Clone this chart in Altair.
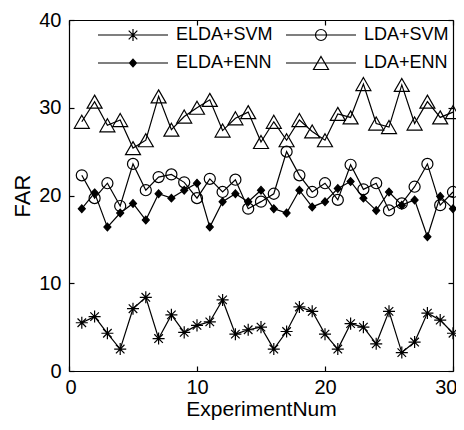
import altair as alt
import pandas as pd

experiment = list(range(1, 31))
elda_svm = [5.5, 6.2, 4.3, 2.5, 7.1, 8.4, 3.7, 6.4, 4.4, 5.2, 5.6, 8.1, 4.2, 4.7, 5.0,
            2.5, 4.5, 7.3, 6.8, 4.2, 2.5, 5.4, 5.0, 3.1, 6.8, 2.1, 3.3, 6.6, 5.8, 4.3]
lda_svm = [22.3, 19.7, 21.4, 18.8, 23.6, 20.6, 22.1, 22.4, 21.5, 19.7, 21.9, 20.4, 21.8, 18.5, 19.3,
           20.2, 25.0, 22.3, 20.4, 21.4, 19.5, 23.5, 20.7, 21.4, 18.3, 19.1, 21.0, 23.6, 18.9, 20.4]
elda_enn = [18.5, 20.3, 16.4, 18.0, 19.1, 17.2, 20.2, 19.7, 20.6, 21.4, 16.4, 19.3, 20.2, 19.3, 20.6,
            18.5, 18.0, 20.6, 18.7, 19.3, 20.8, 21.6, 19.7, 18.3, 20.4, 18.9, 19.5, 15.3, 19.9, 18.5]
lda_enn = [28.4, 30.7, 28.0, 28.6, 25.4, 26.3, 31.3, 27.5, 29.0, 30.0, 30.9, 27.4, 28.8, 29.5, 26.1,
           28.4, 26.3, 28.6, 27.3, 26.3, 29.3, 28.9, 32.7, 28.2, 27.8, 32.6, 28.2, 30.7, 28.9, 29.5]
# legend is filled column by column: column 1 = ELDA..., column 2 = LDA...
series_names = ["ELDA+SVM", "ELDA+ENN", "LDA+SVM", "LDA+ENN"]
x_ticks = [0, 10, 20, 30]
y_ticks = [0, 10, 20, 30, 40]

rows = []
for name, vals in zip(series_names, [elda_svm, elda_enn, lda_svm, lda_enn]):
    for xv, yv in zip(experiment, vals):
        rows.append({"ExperimentNum": xv, "FAR": yv, "series": name})
df = pd.DataFrame(rows)

W, H = 384, 351
FONT = "Liberation Sans"

# marker shapes, unit = 7 px
marker_paths = [
    "M-0.86,0L0.86,0M0,-0.86L0,0.86M-0.61,-0.61L0.61,0.61M-0.61,0.61L0.61,-0.61",
    "M0,-0.55L0.5,0L0,0.55L-0.5,0Z",
    "M-0.79,0A0.79,0.79,0,1,1,0.79,0A0.79,0.79,0,1,1,-0.79,0Z",
    "M0,-0.93L1.07,0.93L-1.07,0.93Z",
]
fills = ["transparent", "black", "transparent", "transparent"]
# legend shapes (line + marker), unit = 10 px
legend_paths = [
    "M-3.5,0L3.5,0M-0.6,0L0.6,0M0,-0.6L0,0.6M-0.43,-0.43L0.43,0.43M-0.43,0.43L0.43,-0.43",
    "M-3.5,0L3.5,0M0,-0.38L0.35,0L0,0.38L-0.35,0Z"
    "M-0.26,-0.1L0.26,-0.1M-0.26,0.1L0.26,0.1M-0.17,-0.2L0.17,-0.2M-0.17,0.2L0.17,0.2"
    "M-0.08,-0.3L0.08,-0.3M-0.08,0.3L0.08,0.3",
    "M-3.5,0L3.5,0M-0.55,0A0.55,0.55,0,1,1,0.55,0A0.55,0.55,0,1,1,-0.55,0Z",
    "M-3.5,0L3.5,0M0,-0.65L0.75,0.65L-0.75,0.65Z",
]

xscale = alt.Scale(domain=[0, 30], nice=False)
yscale = alt.Scale(domain=[0, 40], nice=False)
INWARD = {"expr": "-5"}

label_axis_common = dict(grid=False, domain=True, domainColor="black", domainWidth=1.2,
                         ticks=True, tickSize=INWARD, tickColor="black", tickWidth=1.2,
                         labelFont=FONT, labelFontSize=20, labelColor="black",
                         titleFont=FONT, titleFontWeight="normal", titleColor="black",
                         format="d")
tick_axis_common = dict(grid=False, domain=True, domainColor="black", domainWidth=1.2,
                        ticks=True, tickSize=INWARD, tickColor="black", tickWidth=1.2,
                        labels=False, title=None)

base = alt.Chart(df)

lines = base.mark_line(color="black", strokeWidth=1.2).encode(
    x=alt.X("ExperimentNum:Q", scale=xscale,
            axis=alt.Axis(orient="bottom", values=x_ticks, title="ExperimentNum",
                          labelPadding=11, titleFontSize=21, titlePadding=1,
                          labelFlush=True, labelFlushOffset=4, **label_axis_common)),
    y=alt.Y("FAR:Q", scale=yscale,
            axis=alt.Axis(orient="left", values=y_ticks, title="FAR", labelPadding=13,
                          titleFontSize=22, titlePadding=4, **label_axis_common)),
    detail="series:N",
)

points = base.mark_point(stroke="black", strokeWidth=1.2, size=196, opacity=1).encode(
    x=alt.X("ExperimentNum:Q", scale=xscale,
            axis=alt.Axis(orient="top", values=x_ticks, **tick_axis_common)),
    y=alt.Y("FAR:Q", scale=yscale,
            axis=alt.Axis(orient="right", values=y_ticks, **tick_axis_common)),
    shape=alt.Shape("series:N", scale=alt.Scale(domain=series_names, range=marker_paths), legend=None),
    fill=alt.Fill("series:N", scale=alt.Scale(domain=series_names, range=fills), legend=None),
)

legend = alt.Legend(title=None, orient="none", legendX=53, legendY=4, columns=2,
                    columnPadding=10, rowPadding=8, symbolSize=400, symbolStrokeColor="black",
                    symbolFillColor="transparent", symbolStrokeWidth=1.2, symbolOpacity=1,
                    labelFont=FONT, labelFontSize=18, labelColor="black", labelOffset=32,
                    padding=0)

legend_layer = base.transform_filter("false").mark_point(
    filled=False, stroke="black", strokeWidth=1.2, size=196
).encode(
    x=alt.X("ExperimentNum:Q", scale=xscale, axis=None),
    y=alt.Y("FAR:Q", scale=yscale, axis=None),
    shape=alt.Shape("series:N", scale=alt.Scale(domain=series_names, range=legend_paths), legend=legend),
)

chart = alt.layer(lines, points, legend_layer).resolve_scale(
    shape="independent", fill="independent"
).resolve_axis(
    x="independent", y="independent"
).properties(
    width=W, height=H,
    autosize=alt.AutoSizeParams(type="none"),
    padding={"left": 61, "top": 12, "right": 3, "bottom": 51},
).configure_view(stroke="black", strokeWidth=1.2).configure(background="white")

chart.save("out.html", embed_options={"renderer": "svg", "actions": False})
